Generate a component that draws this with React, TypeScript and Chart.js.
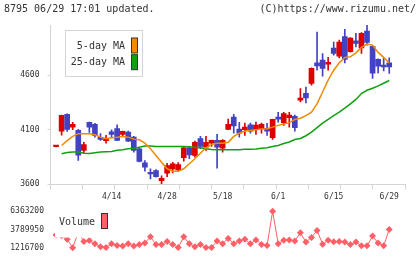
import { useEffect, useRef } from "react";
import { Chart, registerables } from "chart.js";

Chart.register(...registerables);

// Trading days shown on the chart
const dates = [
  "3/31", "4/1", "4/2", "4/3", "4/6", "4/7", "4/8", "4/9", "4/10", "4/13",
  "4/14", "4/15", "4/16", "4/17", "4/20", "4/21", "4/22", "4/23", "4/24", "4/27",
  "4/28", "4/30", "5/1", "5/7", "5/8", "5/11", "5/12", "5/13", "5/14", "5/15",
  "5/18", "5/19", "5/20", "5/21", "5/22", "5/25", "5/26", "5/27", "5/28", "5/29",
  "6/1", "6/2", "6/3", "6/4", "6/5", "6/8", "6/9", "6/10", "6/11", "6/12",
  "6/15", "6/16", "6/17", "6/18", "6/19", "6/22", "6/23", "6/24", "6/25", "6/26",
  "6/29",
];

const openPrices = [
  3945, 4088, 4241, 4124, 4094, 3910, 4168, 4149, 4030, 4000,
  4080, 4110, 4057, 4078, 4032, 3926, 3797, 3710, 3726, 3634,
  3701, 3742, 3732, 3843, 3935, 3864, 4020, 3940, 3977, 4002,
  3931, 4103, 4216, 4106, 4100, 4146, 4100, 4110, 4112, 4027,
  4216, 4165, 4211, 4223, 4370, 4434, 4524, 4713, 4738, 4701,
  4848, 4775, 4953, 4815, 4916, 4851, 5005, 4864, 4745, 4692,
  4713,
];

const highPrices = [
  3958, 4235, 4245, 4168, 4103, 3984, 4170, 4158, 4064, 4048,
  4100, 4146, 4088, 4088, 4040, 3930, 3818, 3742, 3735, 3677,
  3793, 3802, 3800, 3947, 3940, 3996, 4039, 4039, 4005, 4057,
  4011, 4198, 4241, 4168, 4161, 4161, 4170, 4161, 4158, 4198,
  4260, 4260, 4260, 4235, 4478, 4492, 4667, 4995, 4799, 4763,
  4904, 4922, 5020, 4945, 4984, 4990, 5060, 4870, 4750, 4754,
  4759,
];

const lowPrices = [
  3942, 4050, 4085, 4100, 3818, 3889, 4075, 4032, 4002, 3977,
  4032, 4000, 4040, 3990, 3894, 3805, 3720, 3650, 3665, 3604,
  3671, 3705, 3717, 3812, 3834, 3848, 3926, 3910, 3947, 3747,
  3895, 4100, 4069, 4032, 4048, 4069, 4057, 4069, 4048, 4011,
  4170, 4140, 4124, 4088, 4354, 4345, 4508, 4646, 4591, 4646,
  4784, 4759, 4713, 4810, 4860, 4799, 4876, 4570, 4621, 4640,
  4616,
];

const closePrices = [
  3955, 4232, 4103, 4149, 3867, 3965, 4124, 4048, 4011, 4010,
  4058, 4002, 4085, 3996, 3910, 3809, 3756, 3696, 3671, 3655,
  3772, 3788, 3781, 3935, 3870, 3984, 3947, 3984, 4002, 3940,
  4002, 4149, 4134, 4069, 4124, 4088, 4143, 4149, 4088, 4195,
  4198, 4248, 4235, 4119, 4391, 4391, 4664, 4686, 4662, 4719,
  4799, 4904, 4745, 4941, 4892, 4984, 4901, 4619, 4683, 4676,
  4676,
];

const ma5 = [
  null, 3956, 4000, 4039, 4064, 4064, 4064, 4054, 4032, 4018,
  4027, 4032, 4039, 4032, 4014, 4008, 3977, 3926, 3864, 3802,
  3742, 3720, 3720, 3742, 3788, 3834, 3885, 3935, 3965, 3977,
  3977, 3986, 4039, 4069, 4088, 4094, 4100, 4106, 4110, 4124,
  4140, 4152, 4165, 4194, 4205, 4229, 4261, 4337, 4446, 4554,
  4646, 4713, 4763, 4768, 4805, 4855, 4885, 4876, 4809, 4763,
  4713,
];

const ma25 = [
  null, 3880, 3892, 3895, 3895, 3885, 3882, 3889, 3895, 3898,
  3901, 3913, 3917, 3926, 3931, 3940, 3950, 3950, 3947, 3946,
  3946, 3946, 3947, 3947, 3944, 3940, 3935, 3926, 3919, 3916,
  3916, 3916, 3916, 3917, 3922, 3922, 3924, 3931, 3936, 3947,
  3956, 3974, 3988, 4010, 4020, 4045, 4078, 4119, 4161, 4194,
  4229, 4261, 4298, 4337, 4378, 4432, 4462, 4480, 4502, 4526,
  4551,
];

const volumes = [
  3000000, 2900000, 2400000, 1216700, 3400000, 2090000, 2220000, 1790000, 1360000, 1250000,
  1790000, 1530000, 1440000, 1790000, 1440000, 1660000, 1880000, 2750000, 1660000, 1660000,
  2090000, 1660000, 1230000, 2750000, 1790000, 1360000, 1660000, 1230000, 1230000, 2180000,
  1790000, 2530000, 1790000, 2180000, 2400000, 1790000, 2310000, 1660000, 1530000, 6363200,
  1790000, 2260000, 2310000, 2180000, 3320000, 2010000, 2670000, 3660000, 1720000, 2260000,
  2050000, 2090000, 2010000, 1660000, 2010000, 1480000, 1480000, 2860000, 1880000, 1480000,
  3800000,
];

const priceTicks = [3600, 4100, 4600];
const volumeTicks = [1216700, 3789950, 6363200];
const dateTickLabels = ["4/14", "4/28", "5/18", "6/1", "6/15", "6/29"];

const TITLE_LEFT = "8795 06/29 17:01 updated.";
const TITLE_RIGHT = "(C)https://www.rizumu.net/";

const UP_COLOR = "#dd0000";
const DOWN_COLOR = "#4242c2";
const MA5_COLOR = "#f08a00";
const MA25_COLOR = "#12a012";
const VOLUME_COLOR = "#ff5f66";
const AXIS_COLOR = "#d4d4d4";
const TEXT_COLOR = "#333333";
const MONO = '"DejaVu Sans Mono", monospace';

const X_MIN = -1;
const X_MAX = 62.84;
const GRID_DIVISIONS = 11;
const PRICE_MIN = 3600;
const PRICE_MAX = 5060;

const candleColors = openPrices.map((o, i) => (closePrices[i] >= o ? UP_COLOR : DOWN_COLOR));

type XTick = { value: number; text: string };

function buildXTicks(): XTick[] {
  const grid: XTick[] = [];
  for (let k = 0; k <= GRID_DIVISIONS; k++) {
    grid.push({ value: X_MIN + (k * (X_MAX - X_MIN)) / GRID_DIVISIONS, text: "" });
  }
  const labelled: XTick[] = dateTickLabels.map((d) => ({ value: dates.indexOf(d), text: d }));
  return [...grid, ...labelled].sort((a, b) => a.value - b.value);
}

const headerPlugin = {
  id: "header",
  afterDraw(chart: any) {
    const ctx = chart.ctx as CanvasRenderingContext2D;
    ctx.save();
    ctx.font = `10px ${MONO}`;
    ctx.fillStyle = TEXT_COLOR;
    ctx.textBaseline = "middle";
    ctx.textAlign = "left";
    ctx.fillText(TITLE_LEFT, 4, 9);
    ctx.textAlign = "right";
    ctx.fillText(TITLE_RIGHT, 416, 9);
    ctx.restore();
  },
};

const maLegendPlugin = {
  id: "maLegend",
  afterDatasetsDraw(chart: any) {
    const ctx = chart.ctx as CanvasRenderingContext2D;
    const entries = chart.data.datasets.filter((d: any) => d.type === "line");
    ctx.save();
    ctx.fillStyle = "#ffffff";
    ctx.fillRect(65.5, 30.5, 77, 46);
    ctx.strokeStyle = AXIS_COLOR;
    ctx.lineWidth = 1;
    ctx.strokeRect(65.5, 30.5, 77, 46);
    ctx.font = `10px ${MONO}`;
    ctx.textAlign = "right";
    ctx.textBaseline = "middle";
    entries.forEach((d: any, i: number) => {
      const cy = 46 + i * 16.7;
      ctx.fillStyle = TEXT_COLOR;
      ctx.fillText(d.label, 125, cy);
      ctx.fillStyle = d.borderColor;
      ctx.fillRect(131.5, cy - 8, 6, 15);
      ctx.strokeStyle = "#333";
      ctx.strokeRect(131.5, cy - 8, 6, 15);
    });
    ctx.restore();
  },
};

// Volume canvas starts 200px down the page
const VOL_TOP = 200;

const volumeLegendPlugin = {
  id: "volumeLegend",
  afterDatasetsDraw(chart: any) {
    const ctx = chart.ctx as CanvasRenderingContext2D;
    const ds = chart.data.datasets[0];
    const oy = -VOL_TOP;
    ctx.save();
    ctx.fillStyle = "#ffffff";
    ctx.fillRect(55, 204 + oy, 59, 33.5);
    ctx.font = `10px ${MONO}`;
    ctx.textAlign = "left";
    ctx.textBaseline = "middle";
    ctx.fillStyle = TEXT_COLOR;
    ctx.fillText(ds.label, 59, 222 + oy);
    ctx.fillStyle = ds.borderColor;
    ctx.fillRect(101.5, 213.5 + oy, 6, 15);
    ctx.strokeStyle = "#333";
    ctx.lineWidth = 1;
    ctx.strokeRect(101.5, 213.5 + oy, 6, 15);
    ctx.restore();
  },
};

export default function App() {
  const priceRef = useRef<HTMLCanvasElement | null>(null);
  const volumeRef = useRef<HTMLCanvasElement | null>(null);

  useEffect(() => {
    if (!priceRef.current || !volumeRef.current) return;
    const tickFont = { family: MONO, size: 8 };

    const priceChart = new Chart(priceRef.current, {
      type: "bar",
      data: {
        datasets: [
          {
            type: "line",
            label: "5-day MA",
            data: ma5.map((v, i) => ({ x: i, y: v })),
            borderColor: MA5_COLOR,
            borderWidth: 1.5,
            pointRadius: 0,
            order: 0,
          },
          {
            type: "line",
            label: "25-day MA",
            data: ma25.map((v, i) => ({ x: i, y: v })),
            borderColor: MA25_COLOR,
            borderWidth: 1.5,
            pointRadius: 0,
            order: 0,
          },
          {
            type: "bar",
            label: "body",
            data: openPrices.map((o, i) => ({ x: i, y: [o, closePrices[i]] })),
            backgroundColor: candleColors,
            barThickness: 5,
            minBarLength: 1.5,
            stack: "candle",
            order: 1,
          },
          {
            type: "bar",
            label: "wick",
            data: lowPrices.map((l, i) => ({ x: i, y: [l, highPrices[i]] })),
            backgroundColor: candleColors,
            barThickness: 1,
            stack: "candle",
            order: 2,
          },
        ] as any,
      },
      options: {
        responsive: false,
        animation: false,
        devicePixelRatio: 1,
        events: [],
        layout: { padding: { top: 25, right: 15, left: 0, bottom: 0 } },
        plugins: { legend: { display: false }, tooltip: { enabled: false } },
        scales: {
          x: {
            type: "linear",
            offset: false,
            min: X_MIN,
            max: X_MAX,
            afterBuildTicks: (axis: any) => {
              axis.ticks = buildXTicks();
            },
            afterFit: (axis: any) => {
              axis.height = 20.7;
            },
            ticks: {
              autoSkip: false,
              maxRotation: 0,
              padding: 3,
              font: tickFont,
              color: TEXT_COLOR,
              callback: (_v: any, index: number, ticks: any[]) => ticks[index].text,
            },
            grid: {
              offset: false,
              drawOnChartArea: false,
              drawTicks: true,
              tickLength: 5,
              color: (ctx: any) => (ctx.tick && ctx.tick.text ? "rgba(0,0,0,0)" : AXIS_COLOR),
            },
            border: { display: true, color: AXIS_COLOR },
          },
          y: {
            type: "linear",
            stacked: false,
            min: PRICE_MIN,
            max: PRICE_MAX,
            afterBuildTicks: (axis: any) => {
              axis.ticks = priceTicks.map((v) => ({ value: v }));
            },
            afterFit: (axis: any) => {
              axis.width = 50.5;
            },
            ticks: {
              autoSkip: false,
              padding: 8,
              font: tickFont,
              color: TEXT_COLOR,
              callback: (v: any) => String(v),
            },
            grid: { drawOnChartArea: false, tickLength: 3, color: AXIS_COLOR },
            border: { display: true, color: AXIS_COLOR },
          },
        },
      } as any,
      plugins: [headerPlugin, maLegendPlugin],
    });

    const volumeChart = new Chart(volumeRef.current, {
      type: "line",
      data: {
        datasets: [
          {
            label: "Volume",
            data: volumes.map((v, i) => ({ x: i, y: v })),
            borderColor: VOLUME_COLOR,
            backgroundColor: VOLUME_COLOR,
            pointBackgroundColor: VOLUME_COLOR,
            borderWidth: 1,
            pointStyle: "rectRot",
            pointRadius: 3.5,
            pointBorderWidth: 0,
            clip: false,
          },
        ] as any,
      },
      options: {
        responsive: false,
        animation: false,
        devicePixelRatio: 1,
        events: [],
        layout: { padding: { top: 9, right: 15, left: 0, bottom: 10.6 } },
        plugins: { legend: { display: false }, tooltip: { enabled: false } },
        scales: {
          x: { type: "linear", display: false, min: X_MIN, max: X_MAX },
          y: {
            type: "linear",
            min: volumeTicks[0],
            max: volumeTicks[volumeTicks.length - 1],
            afterBuildTicks: (axis: any) => {
              axis.ticks = volumeTicks.map((v) => ({ value: v }));
            },
            afterFit: (axis: any) => {
              axis.width = 50.5;
            },
            ticks: {
              autoSkip: false,
              padding: 6.5,
              font: tickFont,
              color: TEXT_COLOR,
              callback: (v: any) => String(v),
            },
            grid: { display: false, drawTicks: false },
            border: { display: false },
          },
        },
      } as any,
      plugins: [volumeLegendPlugin],
    });

    return () => {
      priceChart.destroy();
      volumeChart.destroy();
    };
  }, []);

  return (
    <div style={{ position: "absolute", left: 0, top: 0, width: 420, height: 259, background: "#ffffff" }}>
      <canvas ref={priceRef} width={420} height={205} style={{ position: "absolute", left: 0, top: 0 }} />
      <canvas ref={volumeRef} width={420} height={59} style={{ position: "absolute", left: 0, top: VOL_TOP }} />
    </div>
  );
}
